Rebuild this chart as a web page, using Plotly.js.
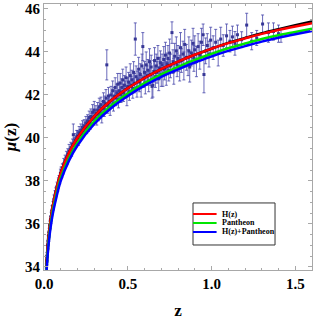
<!DOCTYPE html>
<html>
<head>
<meta charset="utf-8">
<script src="https://cdn.plot.ly/plotly-3.0.1.min.js"></script>
<style>html,body{margin:0;padding:0;background:#fff;}#chart{width:313px;height:320px;}</style>
</head>
<body>
<div id="chart"></div>
<script>
// Model curves
const zModel = [0.014,0.02,0.03,0.05,0.075,0.1,0.15,0.2,0.3,0.4,0.5,0.6,0.7,0.8,0.9,1.0,1.1,1.2,1.3,1.4,1.5,1.6];
const muHz = [33.95,34.73,35.61,36.73,37.63,38.37,39.32,40.01,41.01,41.74,42.31,42.79,43.20,43.55,43.87,44.15,44.41,44.63,44.84,45.02,45.18,45.33];
const muBlack = [33.95,34.73,35.61,36.73,37.63,38.37,39.32,40.01,41.01,41.74,42.31,42.79,43.20,43.55,43.87,44.15,44.42,44.65,44.87,45.06,45.24,45.42];
const muPantheon = [33.71,34.49,35.37,36.49,37.39,38.13,39.08,39.77,40.77,41.50,42.07,42.55,42.96,43.31,43.63,43.91,44.17,44.39,44.60,44.78,44.93,45.08];
const muJoint = [33.59,34.37,35.25,36.37,37.27,38.01,38.96,39.65,40.65,41.38,41.95,42.43,42.84,43.19,43.51,43.79,44.05,44.27,44.48,44.66,44.82,44.97];
const seriesNames = ['H(z)', 'Pantheon', 'H(z)+Pantheon'];
const seriesColors = ['rgb(255,0,0)', 'rgb(0,230,0)', 'rgb(0,0,255)'];

// Supernova data
const zData = [
0.014,0.015,0.016,0.017,0.018,0.019,0.021,0.022,0.023,0.024,0.025,0.026,0.028,0.029,0.031,0.033,0.035,0.037,0.039,0.041,0.043,0.045,0.048,0.051,0.054,0.057,0.060,0.063,0.066,0.070,0.074,0.078,0.082,0.086,0.090,0.094,0.098,
0.102,0.106,0.11,0.114,0.118,0.122,0.126,0.13,0.134,0.138,0.142,0.146,0.15,0.155,0.16,0.165,0.17,0.175,0.18,0.185,0.19,0.195,0.2,0.205,0.21,0.215,0.22,0.225,0.23,0.235,0.24,0.245,0.25,0.255,0.26,0.265,0.27,0.275,0.28,0.285,0.29,0.295,0.3,
0.305,0.31,0.315,0.32,0.325,0.33,0.335,0.34,0.345,0.35,0.355,0.36,0.365,0.37,0.375,0.38,0.385,0.39,0.395,0.4,0.405,0.41,0.415,0.42,0.425,0.43,0.435,0.44,0.445,0.45,0.455,0.46,0.465,0.47,0.475,0.48,0.485,0.49,0.495,0.5,0.505,0.51,0.515,0.52,0.525,0.53,0.535,0.54,0.545,0.55,0.555,0.56,0.565,0.57,0.575,0.58,0.585,0.59,0.595,0.6,0.605,0.61,0.615,0.62,0.625,0.63,0.635,0.64,0.645,0.65,0.655,0.66,0.665,0.67,0.675,0.68,0.685,0.69,0.695,0.7,
0.705,0.71,0.715,0.72,0.725,0.73,0.735,0.74,0.745,0.75,0.755,0.764,0.77,0.775,0.78,0.79,0.795,0.8,0.81,0.815,0.82,0.83,0.835,0.84,0.85,0.86,0.865,0.87,0.88,0.89,0.895,0.9,0.91,0.92,0.93,0.94,0.95,0.955,0.965,0.975,0.985,0.995,
1.01,1.025,1.04,1.055,1.07,1.09,1.11,1.125,1.14,1.155,1.18,1.21,1.24,1.27,1.305,1.34,1.37,1.40,1.415];
const muData = [
33.95,34.02,34.30,34.25,34.48,34.50,34.80,34.85,35.00,35.05,35.25,35.20,35.45,35.40,35.65,35.75,35.95,35.98,36.20,36.20,36.35,36.45,36.65,36.70,36.85,36.98,37.15,37.15,37.35,37.50,37.55,37.75,37.70,37.95,38.05,38.05,38.35,
38.45,38.40,38.60,38.55,38.80,38.72,38.95,38.90,39.10,38.98,39.25,39.15,39.40,39.30,39.55,39.45,39.70,40.15,39.75,39.90,39.80,40.05,40.10,39.95,40.25,40.15,40.35,40.20,40.50,40.35,40.55,40.45,40.70,40.50,40.80,40.60,40.95,40.70,41.00,40.85,41.20,40.90,41.30,
41.00,41.15,40.90,41.30,41.10,41.45,41.20,41.55,41.05,41.40,41.70,41.35,41.60,41.85,43.40,41.50,41.95,41.70,41.40,42.00,41.75,42.20,41.60,41.95,42.35,41.85,42.10,42.50,41.80,42.20,42.55,42.00,42.35,42.70,42.10,42.45,42.25,42.80,41.95,42.40,42.60,42.15,42.90,42.45,42.70,42.30,43.05,42.55,44.60,42.85,42.35,42.70,43.20,42.60,42.95,42.40,43.35,44.25,42.80,43.05,42.55,43.40,42.90,43.15,42.65,43.55,42.95,43.30,42.40,42.45,43.10,43.60,42.85,43.35,43.05,43.70,42.75,43.25,43.50,42.95,
43.40,42.95,43.65,43.20,43.85,43.00,43.45,43.70,43.15,43.95,43.35,44.90,43.55,43.10,43.80,44.05,43.40,43.70,43.25,44.20,43.60,43.90,43.35,44.35,43.75,43.50,44.05,43.30,43.95,44.40,43.70,44.10,43.55,44.25,43.85,44.45,44.80,42.95,44.05,44.30,43.90,44.55,
44.20,44.45,43.95,44.60,44.30,44.75,44.50,44.70,44.40,44.80,44.57,45.25,44.50,44.65,45.30,44.90,44.95,44.85,44.75];
const errData = [
0.2,0.18,0.2,0.15,0.2,0.18,0.2,0.15,0.2,0.18,0.2,0.15,0.18,0.2,0.15,0.2,0.18,0.2,0.15,0.18,0.2,0.18,0.2,0.15,0.2,0.18,0.2,0.15,0.2,0.18,0.2,0.2,0.18,0.2,0.2,0.18,0.2,
0.2,0.25,0.2,0.22,0.25,0.2,0.25,0.2,0.28,0.22,0.25,0.2,0.3,0.22,0.25,0.3,0.25,0.5,0.25,0.3,0.22,0.3,0.25,0.3,0.28,0.25,0.3,0.25,0.3,0.28,0.3,0.25,0.3,0.3,0.28,0.3,0.3,0.3,0.35,0.3,0.35,0.3,0.4,
0.3,0.35,0.3,0.35,0.3,0.4,0.3,0.35,0.35,0.3,0.4,0.35,0.35,0.4,0.7,0.35,0.4,0.3,0.35,0.4,0.35,0.45,0.35,0.4,0.45,0.35,0.4,0.5,0.4,0.4,0.45,0.35,0.4,0.5,0.4,0.45,0.4,0.5,0.45,0.4,0.45,0.4,0.55,0.4,0.45,0.45,0.5,0.45,0.75,0.5,0.45,0.4,0.55,0.45,0.5,0.5,0.55,0.65,0.45,0.5,0.5,0.6,0.45,0.5,0.5,0.6,0.5,0.55,0.55,0.55,0.5,0.6,0.5,0.55,0.5,0.6,0.55,0.5,0.55,0.55,
0.5,0.55,0.6,0.5,0.6,0.55,0.5,0.6,0.5,0.65,0.55,0.5,0.55,0.6,0.6,0.65,0.55,0.6,0.6,0.7,0.55,0.6,0.65,0.7,0.6,0.6,0.65,0.7,0.6,0.7,0.6,0.65,0.7,0.6,0.65,0.65,0.5,0.85,0.6,0.55,0.6,0.6,
0.55,0.6,0.6,0.55,0.5,0.55,0.5,0.5,0.55,0.45,0.37,0.55,0.4,0.35,0.42,0.45,0.4,0.4,0.3];

const serif = '"Liberation Serif", "Times New Roman", serif';
const modelY = [muHz, muPantheon, muJoint];
const traces = [
  {x: zData, y: muData, type: 'scatter', mode: 'markers', showlegend: false,
   marker: {size: 3, color: 'rgb(55,55,150)', symbol: 'square'},
   error_y: {type: 'data', array: errData, visible: true, color: 'rgba(70,70,170,0.8)', thickness: 1, width: 1.5}},
  {x: zModel, y: muBlack, type: 'scatter', mode: 'lines', showlegend: false, line: {color: 'black', width: 2.5, shape: 'spline'}}
];
seriesNames.forEach((n, i) => traces.push({
  x: zModel, y: modelY[i], type: 'scatter', mode: 'lines', name: n, showlegend: false,
  line: {color: seriesColors[i], width: 2.5, shape: 'spline'}
}));

// custom legend box (drawn with shapes + text annotations)
const legX0 = 0.556, legX1 = 0.862, legY0 = 0.094, legY1 = 0.252;
const rowY = [0.2105, 0.1767, 0.1429];
const shapes = [{type: 'rect', xref: 'paper', yref: 'paper', x0: legX0, x1: legX1, y0: legY0, y1: legY1,
  line: {color: '#333', width: 1}, fillcolor: 'white', layer: 'above'}];
const annotations = [];
seriesNames.forEach((n, i) => {
  shapes.push({type: 'line', xref: 'paper', yref: 'paper', x0: legX0, x1: 0.644, y0: rowY[i], y1: rowY[i],
    line: {color: seriesColors[i], width: 2}, layer: 'above'});
  annotations.push({xref: 'paper', yref: 'paper', x: 0.658, y: rowY[i], xanchor: 'left', yanchor: 'middle',
    text: '<b>' + n + '</b>', showarrow: false, font: {family: serif, size: 8, color: 'black'}});
});

const frameColor = '#a8a8a8';
const layout = {
  width: 313, height: 320,
  margin: {l: 44, r: 1, t: 4, b: 50},
  paper_bgcolor: 'white', plot_bgcolor: 'white',
  showlegend: false,
  font: {family: serif, color: 'black'},
  shapes: shapes, annotations: annotations,
  xaxis: {
    range: [0, 1.6], tickvals: [0, 0.5, 1.0, 1.5], tickformat: '.1f',
    ticks: 'inside', ticklen: 4, tickcolor: frameColor, mirror: 'allticks',
    showline: true, linecolor: frameColor, linewidth: 1, showgrid: false, zeroline: false,
    tickfont: {family: serif, size: 15, color: 'black', weight: 'bold'},
    minor: {dtick: 0.1, ticks: 'inside', ticklen: 2, tickcolor: frameColor, showgrid: false},
    title: {text: '<b>z</b>', font: {family: serif, size: 17, color: 'black'}, standoff: 14}
  },
  yaxis: {
    range: [33.86, 46.23], tickvals: [34, 36, 38, 40, 42, 44, 46],
    ticks: 'inside', ticklen: 4, tickcolor: frameColor, mirror: 'allticks',
    showline: true, linecolor: frameColor, linewidth: 1, showgrid: false, zeroline: false,
    tickfont: {family: serif, size: 15, color: 'black', weight: 'bold'},
    ticklabelstandoff: 0,
    minor: {dtick: 0.5, ticks: 'inside', ticklen: 2, tickcolor: frameColor, showgrid: false},
    title: {text: '<b><i>μ</i>(z)</b>', font: {family: serif, size: 17, color: 'black'}, standoff: 4}
  }
};
Plotly.newPlot('chart', traces, layout, {displayModeBar: false, staticPlot: true});
</script>
</body>
</html>
